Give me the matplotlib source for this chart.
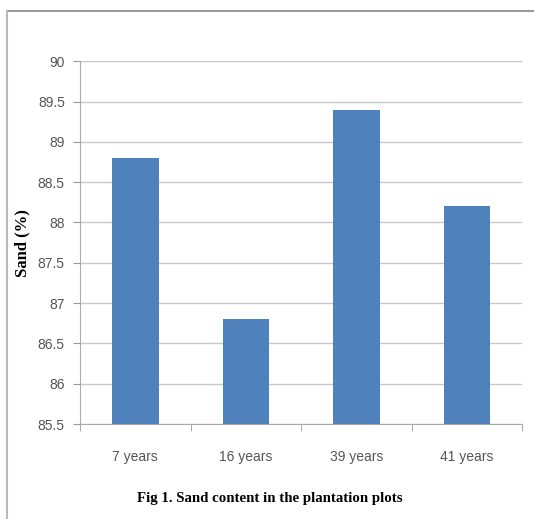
import matplotlib.pyplot as plt
from matplotlib.lines import Line2D

# sand content per plantation age
categories = ['7 years', '16 years', '39 years', '41 years']
sand = [88.8, 86.8, 89.4, 88.2]
yticks = [85.5, 86, 86.5, 87, 87.5, 88, 88.5, 89, 89.5, 90]

fig = plt.figure(figsize=(5.34, 5.19), dpi=100)
ax = fig.add_axes([0.150, 0.183, 0.828, 0.699])

x = range(len(categories))
ax.bar(x, [v - 85.5 for v in sand], bottom=85.5, width=0.42, color='#4F81BD', zorder=3)

ax.set_xlim(-0.5, len(categories) - 0.5)
ax.set_ylim(85.5, 90)
ax.set_yticks(yticks)
ax.set_yticklabels([('%g' % t) for t in yticks])
ax.set_xticks(list(x))
ax.set_xticklabels(categories)
ax.set_xticks([i - 0.5 for i in range(len(categories) + 1)], minor=True)

for lab in ax.get_yticklabels() + ax.get_xticklabels():
    lab.set_fontfamily(['Liberation Sans', 'DejaVu Sans'])
    lab.set_fontsize(10)
    lab.set_color('#555555')

ax.tick_params(axis='y', length=5, color='#999999', pad=6)
ax.tick_params(axis='x', which='major', length=0, pad=19)
ax.tick_params(axis='x', which='minor', length=5, color='#999999')

ax.grid(axis='y', color='#C8C8C8', linewidth=1, zorder=0)
for side in ['top', 'right']:
    ax.spines[side].set_visible(False)
for side in ['left', 'bottom']:
    ax.spines[side].set_color('#AAAAAA')

ax.set_ylabel('Sand (%)', fontfamily='Liberation Serif', fontweight='bold', fontsize=12, va='center')
ax.yaxis.set_label_coords(-0.131, 0.5)

fig.text(0.505, 0.040, 'Fig 1. Sand content in the plantation plots', ha='center', va='center',
         fontfamily='Liberation Serif', fontweight='bold', fontsize=10.7)

# outer frame (only top and left edges visible in the original)
fig.add_artist(Line2D([0.013, 1.0], [0.979, 0.979], color='#999999', linewidth=1.5, transform=fig.transFigure))
fig.add_artist(Line2D([0.013, 0.013], [0.0, 0.979], color='#BBBBBB', linewidth=1.5, transform=fig.transFigure))

fig.savefig('out.png', dpi=100)
